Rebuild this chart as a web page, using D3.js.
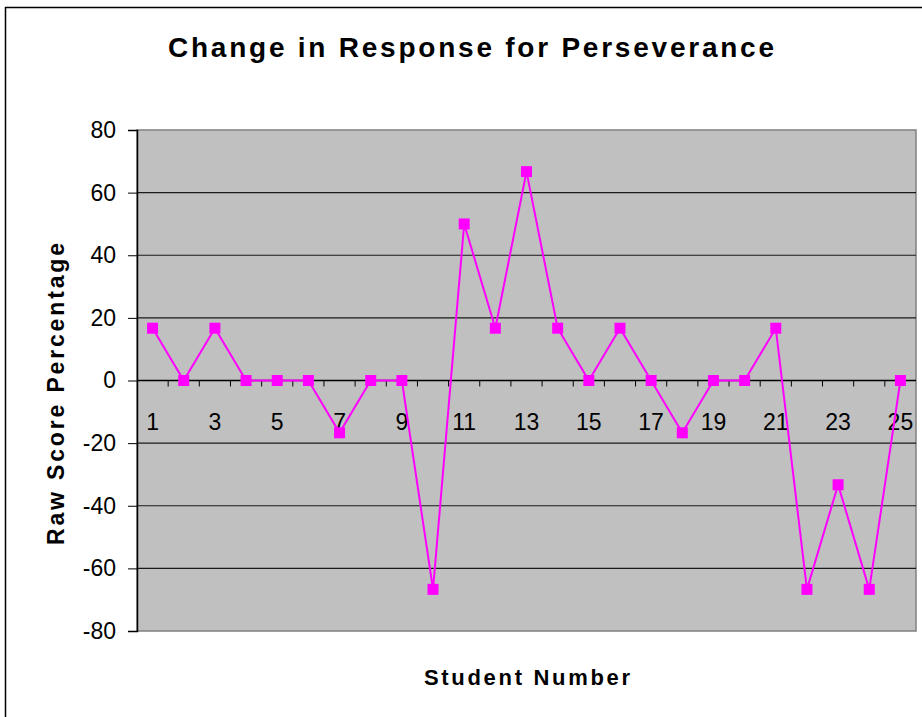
<!DOCTYPE html>
<html>
<head>
<meta charset="utf-8">
<script src="https://cdn.jsdelivr.net/npm/d3@7"></script>
<style>
  body { margin: 0; background: #fff; }
  svg { display: block; font-family: "Liberation Sans", Arial, sans-serif; }
</style>
</head>
<body>
<svg id="chart" width="922" height="717"></svg>
<script>
// DATA
const students = d3.range(1, 26);
const scores = [16.7, 0, 16.7, 0, 0, 0, -16.7, 0, 0, -66.7,
                50, 16.7, 66.7, 16.7, 0, 16.7, 0, -16.7, 0, 0,
                16.7, -66.7, -33.3, -66.7, 0];
const yTicks = [-80, -60, -40, -20, 0, 20, 40, 60, 80];
const xLabels = students.filter(d => d % 2 === 1);

// LAYOUT
const plot = { left: 137, right: 916, top: 130, bottom: 631 };
const svg = d3.select("#chart");

// outer chart frame
svg.append("rect")
  .attr("x", 5.5).attr("y", 7.5)
  .attr("width", 940).attr("height", 740)
  .attr("fill", "#fff").attr("stroke", "#000").attr("stroke-width", 1.5);

const x = d3.scaleBand().domain(students).range([plot.left, plot.right]);
const y = d3.scaleLinear().domain([-80, 80]).range([plot.bottom, plot.top]);

// plot background
svg.append("rect")
  .attr("x", plot.left).attr("y", plot.top)
  .attr("width", plot.right - plot.left).attr("height", plot.bottom - plot.top)
  .attr("fill", "#c0c0c0").attr("stroke", "#808080").attr("stroke-width", 1.5);

// gridlines
svg.append("g")
  .selectAll("line")
  .data(yTicks.filter(t => t !== 0 && t !== 80 && t !== -80))
  .join("line")
  .attr("x1", plot.left).attr("x2", plot.right)
  .attr("y1", d => y(d)).attr("y2", d => y(d))
  .attr("stroke", "#1a1a1a").attr("stroke-width", 1.2);

// y axis
const yAxis = svg.append("g")
  .attr("transform", `translate(${plot.left},0)`)
  .call(d3.axisLeft(y).tickValues(yTicks).tickSize(9).tickPadding(12).tickFormat(d => String(d)));
yAxis.select(".domain").attr("stroke", "#000").attr("stroke-width", 1.5);
yAxis.selectAll(".tick line").attr("stroke", "#000");
yAxis.selectAll("text")
  .attr("font-size", 23).attr("fill", "#000")
  .attr("font-family", "'Liberation Sans', Arial, sans-serif");

// x axis at zero, ticks between categories
const xg = svg.append("g");
xg.append("line")
  .attr("x1", plot.left).attr("x2", plot.right)
  .attr("y1", y(0)).attr("y2", y(0))
  .attr("stroke", "#000").attr("stroke-width", 1.5);
xg.selectAll("line.tick")
  .data(students.slice(1))
  .join("line")
  .attr("class", "tick")
  .attr("x1", d => x(d)).attr("x2", d => x(d))
  .attr("y1", y(0)).attr("y2", y(0) + 6)
  .attr("stroke", "#000").attr("stroke-width", 1);
xg.selectAll("text")
  .data(xLabels)
  .join("text")
  .attr("x", d => x(d) + x.bandwidth() / 2)
  .attr("y", y(0) + 49)
  .attr("text-anchor", "middle")
  .attr("font-size", 23)
  .text(d => d);

// series
const cx = d => x(d) + x.bandwidth() / 2;
svg.append("path")
  .datum(students)
  .attr("fill", "none")
  .attr("stroke", "#ff00ff")
  .attr("stroke-width", 2)
  .attr("d", d3.line().x(cx).y((d, i) => y(scores[i])));

svg.append("g")
  .selectAll("rect")
  .data(students)
  .join("rect")
  .attr("x", d => cx(d) - 5.5)
  .attr("y", (d, i) => y(scores[i]) - 5.5)
  .attr("width", 11).attr("height", 11)
  .attr("fill", "#ff00ff");

// titles
svg.append("text")
  .attr("x", 471).attr("y", 57)
  .attr("text-anchor", "middle")
  .attr("font-size", 28).attr("font-weight", "bold")
  .attr("textLength", 606).attr("lengthAdjust", "spacing")
  .text("Change in Response for Perseverance");

svg.append("text")
  .attr("x", 527).attr("y", 685)
  .attr("text-anchor", "middle")
  .attr("font-size", 22).attr("font-weight", "bold")
  .attr("textLength", 206).attr("lengthAdjust", "spacing")
  .text("Student Number");

svg.append("text")
  .attr("transform", "translate(64,394) rotate(-90)")
  .attr("text-anchor", "middle")
  .attr("font-size", 23).attr("font-weight", "bold")
  .attr("textLength", 302).attr("lengthAdjust", "spacing")
  .text("Raw Score Percentage");
</script>
</body>
</html>
